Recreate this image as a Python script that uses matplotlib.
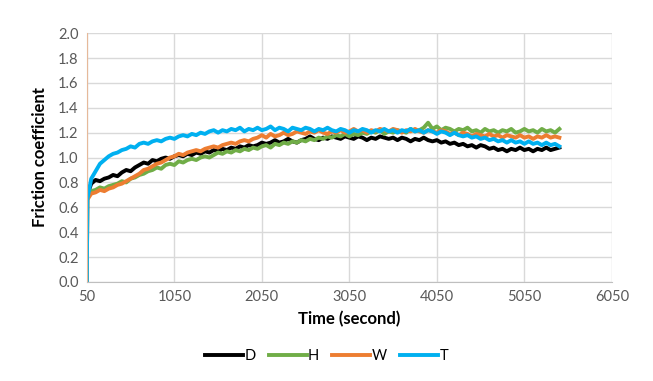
import matplotlib
matplotlib.use("Agg")
import matplotlib.pyplot as plt

# time axis (s): start jump, then every 50 s
time_s = [50, 55] + list(range(100, 5451, 50))

fc_D = [0.00, 0.70, 0.79, 0.82, 0.81, 0.83, 0.84, 0.86, 0.85, 0.88,
        0.90, 0.89, 0.92, 0.94, 0.96, 0.95, 0.98, 0.97, 0.99, 1.00,
        0.99, 1.01, 1.02, 1.01, 1.03, 1.02, 1.04, 1.03, 1.05, 1.04,
        1.06, 1.05, 1.07, 1.06, 1.08, 1.07, 1.09, 1.08, 1.10, 1.09,
        1.10, 1.12, 1.11, 1.12, 1.14, 1.12, 1.13, 1.15, 1.13, 1.12,
        1.14, 1.15, 1.17, 1.15, 1.14, 1.16, 1.15, 1.17, 1.16, 1.15,
        1.17, 1.16, 1.15, 1.17, 1.16, 1.14, 1.16, 1.15, 1.17, 1.16,
        1.15, 1.16, 1.14, 1.16, 1.15, 1.13, 1.15, 1.14, 1.16, 1.14,
        1.13, 1.14, 1.12, 1.13, 1.11, 1.12, 1.10, 1.11, 1.09, 1.10,
        1.08, 1.10, 1.09, 1.07, 1.08, 1.06, 1.07, 1.05, 1.07, 1.06,
        1.08, 1.06, 1.07, 1.05, 1.07, 1.06, 1.08, 1.06, 1.07, 1.08]

fc_H = [0.00, 0.68, 0.73, 0.74, 0.76, 0.75, 0.77, 0.78, 0.79, 0.81,
        0.80, 0.83, 0.84, 0.86, 0.87, 0.89, 0.90, 0.92, 0.91, 0.94,
        0.95, 0.94, 0.97, 0.96, 0.98, 0.99, 0.98, 1.00, 1.01, 1.00,
        1.02, 1.04, 1.03, 1.05, 1.04, 1.06, 1.05, 1.07, 1.06, 1.08,
        1.07, 1.09, 1.10, 1.08, 1.11, 1.10, 1.12, 1.11, 1.13, 1.12,
        1.14, 1.13, 1.15, 1.14, 1.16, 1.15, 1.17, 1.16, 1.18, 1.17,
        1.19, 1.17, 1.19, 1.18, 1.20, 1.19, 1.21, 1.20, 1.22, 1.19,
        1.21, 1.20, 1.22, 1.21, 1.20, 1.23, 1.21, 1.22, 1.24, 1.28,
        1.23, 1.25, 1.22, 1.24, 1.23, 1.21, 1.23, 1.22, 1.24, 1.21,
        1.22, 1.20, 1.23, 1.21, 1.22, 1.20, 1.22, 1.21, 1.23, 1.20,
        1.21, 1.23, 1.21, 1.22, 1.20, 1.23, 1.21, 1.22, 1.20, 1.23]

fc_W = [0.00, 0.66, 0.71, 0.72, 0.74, 0.73, 0.75, 0.76, 0.78, 0.79,
        0.81, 0.83, 0.85, 0.87, 0.90, 0.91, 0.93, 0.95, 0.96, 0.98,
        1.00, 1.01, 1.03, 1.02, 1.04, 1.05, 1.06, 1.05, 1.07, 1.08,
        1.09, 1.08, 1.10, 1.11, 1.12, 1.11, 1.13, 1.14, 1.13, 1.15,
        1.16, 1.18, 1.16, 1.19, 1.17, 1.18, 1.20, 1.18, 1.19, 1.21,
        1.20, 1.19, 1.21, 1.20, 1.22, 1.20, 1.19, 1.21, 1.20, 1.22,
        1.20, 1.21, 1.23, 1.21, 1.22, 1.20, 1.22, 1.21, 1.23, 1.22,
        1.21, 1.23, 1.22, 1.20, 1.22, 1.21, 1.23, 1.21, 1.20, 1.22,
        1.21, 1.20, 1.22, 1.21, 1.19, 1.20, 1.18, 1.20, 1.19, 1.17,
        1.19, 1.18, 1.17, 1.19, 1.17, 1.18, 1.16, 1.18, 1.17, 1.16,
        1.18, 1.16, 1.17, 1.15, 1.17, 1.16, 1.18, 1.16, 1.17, 1.16]

fc_T = [0.00, 0.66, 0.83, 0.89, 0.95, 0.98, 1.01, 1.03, 1.04, 1.06,
        1.07, 1.09, 1.08, 1.11, 1.12, 1.11, 1.13, 1.14, 1.13, 1.15,
        1.16, 1.15, 1.17, 1.18, 1.17, 1.19, 1.18, 1.20, 1.19, 1.21,
        1.22, 1.20, 1.22, 1.21, 1.23, 1.22, 1.24, 1.21, 1.23, 1.22,
        1.24, 1.22, 1.23, 1.25, 1.22, 1.24, 1.23, 1.21, 1.24, 1.23,
        1.22, 1.24, 1.23, 1.21, 1.23, 1.22, 1.24, 1.22, 1.21, 1.23,
        1.22, 1.20, 1.22, 1.21, 1.23, 1.22, 1.20, 1.22, 1.21, 1.23,
        1.21, 1.22, 1.20, 1.22, 1.21, 1.23, 1.21, 1.22, 1.20, 1.22,
        1.21, 1.19, 1.21, 1.20, 1.18, 1.20, 1.18, 1.17, 1.18, 1.16,
        1.17, 1.15, 1.16, 1.14, 1.15, 1.13, 1.14, 1.12, 1.14, 1.12,
        1.13, 1.11, 1.13, 1.11, 1.12, 1.10, 1.12, 1.10, 1.11, 1.09]

series = [("D", fc_D, "#000000"),
          ("H", fc_H, "#70AD47"),
          ("W", fc_W, "#ED7D31"),
          ("T", fc_T, "#00B0F0")]

plt.rcParams['font.family'] = ['Lato', 'DejaVu Sans']

fig = plt.figure(figsize=(6.53, 3.81), dpi=100)
ax = fig.add_axes([0.133, 0.26, 0.804, 0.653])

for name, vals, col in series:
    ax.plot(time_s, vals, color=col, lw=2.8, label=name, solid_joinstyle='round')

ax.set_xlim(50, 6050)
ax.set_ylim(0, 2.0)
ax.set_xticks(range(50, 6051, 1000))
ax.set_yticks([i * 0.2 for i in range(11)])
ax.set_yticklabels([f"{i * 0.2:.1f}" for i in range(11)])
ax.grid(True, color="#d9d9d9", lw=1)
ax.set_axisbelow(True)
ax.tick_params(length=0, labelsize=10.5, colors="#595959", pad=6)

for s in ["top", "right"]:
    ax.spines[s].set_visible(False)
ax.spines["bottom"].set_color("#bfbfbf")
ax.spines["left"].set_color("#e6b99a")

ax.set_xlabel("Time (second)", fontsize=12, fontweight="bold", labelpad=5)
ax.set_ylabel("Friction coefficient", fontsize=12, fontweight="bold", labelpad=7)

fig.legend(loc="center", bbox_to_anchor=(0.5, 0.065), ncol=4, frameon=False,
           fontsize=10.5, handlelength=2.6, handletextpad=0.1, columnspacing=0.9)

fig.savefig("out.png", dpi=100)
